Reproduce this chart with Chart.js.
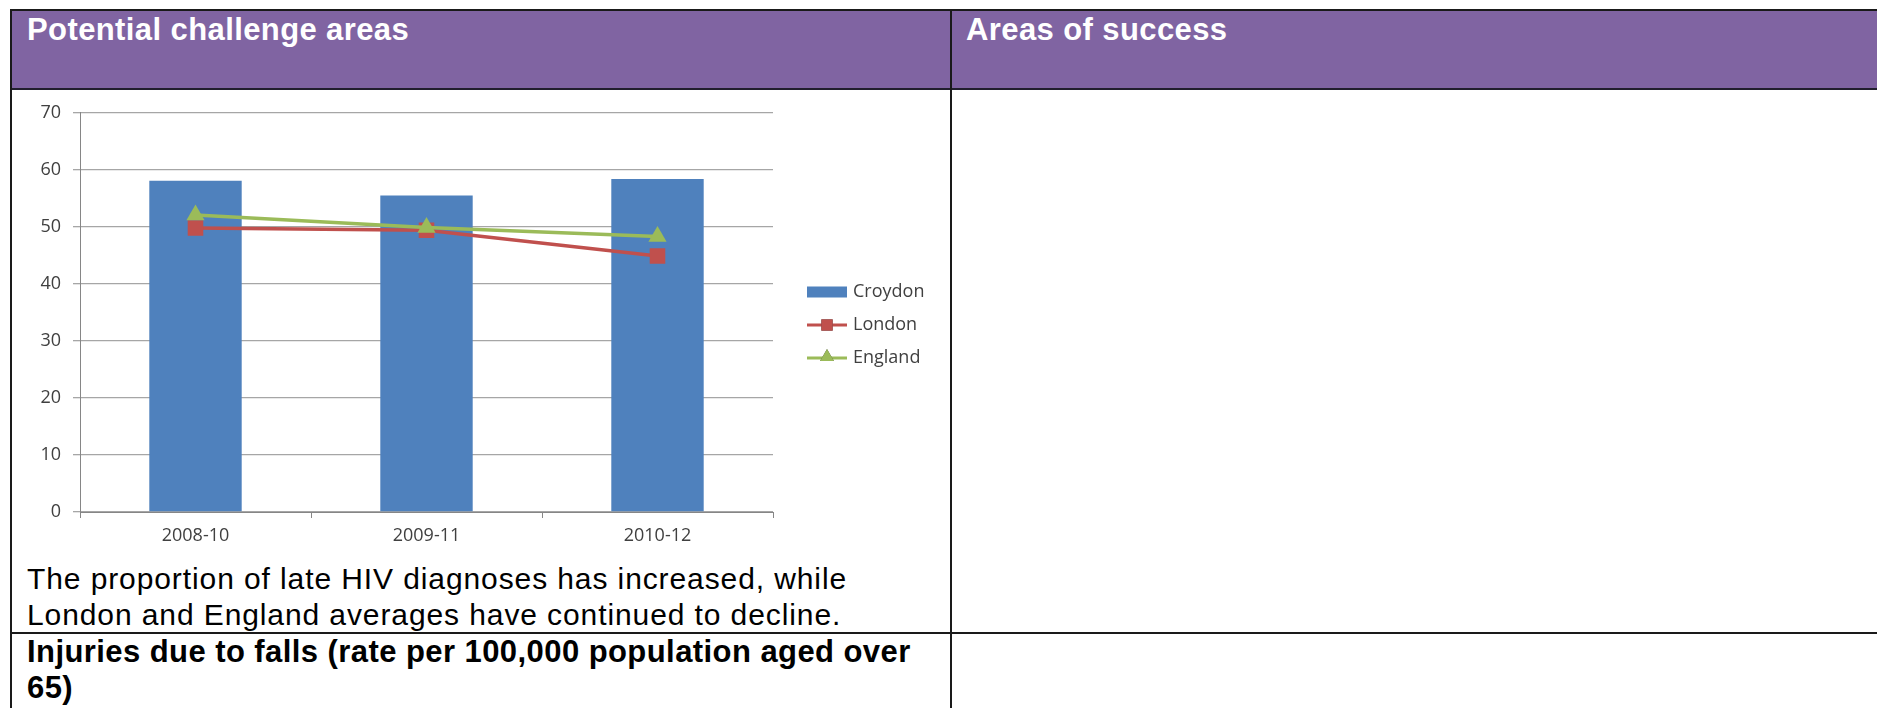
<!DOCTYPE html>
<html>
<head>
<meta charset="utf-8">
<script src="https://cdn.jsdelivr.net/npm/chart.js@4/dist/chart.umd.min.js"></script>
<style>
  body { margin: 0; width: 1877px; height: 708px; overflow: hidden; background: #fff; position: relative; font-family: "Liberation Sans", Arial, sans-serif; }
  .linea { position: absolute; background: #1a1a1a; }
  .cabecera { position: absolute; left: 11px; top: 11px; width: 1866px; height: 77px; background: #8064a2; }
  .texto { position: absolute; white-space: nowrap; font-size: 30px; line-height: 36px; }
  .titulo { color: #fff; font-weight: bold; font-size: 31px; line-height: 30px; letter-spacing: 0.4px; }
  #grafico { position: absolute; left: 12px; top: 90px; }
</style>
</head>
<body>
<div class="cabecera"></div>
<div class="linea" style="left:10px;top:9px;width:1867px;height:2px;"></div>
<div class="linea" style="left:10px;top:88px;width:1867px;height:2px;background:#221f2e;"></div>
<div class="linea" style="left:10px;top:9px;width:2px;height:699px;"></div>
<div class="linea" style="left:950px;top:9px;width:2px;height:699px;"></div>
<div class="linea" style="left:10px;top:632px;width:1867px;height:2px;"></div>

<div class="texto titulo" style="left:27px;top:15px;">Potential challenge areas</div>
<div class="texto titulo" style="left:966px;top:15px;">Areas of success</div>

<canvas id="grafico" width="936" height="460"></canvas>

<div class="texto" style="left:27px;top:561px;letter-spacing:0.9px;">The proportion of late HIV diagnoses has increased, while<br>London and England averages have continued to decline.</div>
<div class="texto" style="left:27px;top:634px;font-size:31px;font-weight:bold;letter-spacing:0.43px;">Injuries due to falls (rate per 100,000 population aged over<br>65)</div>

<script>
// Datos
const periodos = ['2008-10', '2009-11', '2010-12'];
const croydon = [58.1, 55.5, 58.4];
const london = [49.8, 49.4, 44.9];
const england = [52.1, 49.9, 48.3];
const ticksY = [0, 10, 20, 30, 40, 50, 60, 70];

const canvasGrafico = document.querySelector('#grafico');

// Leyenda dibujada a mano para mostrar linea + marcador
const leyendaPlugin = {
  id: 'leyendaManual',
  afterDraw: (chart) => {
    const ctx = chart.ctx;
    const x0 = 795;
    const y0 = 202;
    const paso = 33;
    ctx.save();
    ctx.font = '18px "Open Sans"';
    ctx.textBaseline = 'middle';
    chart.data.datasets.forEach((ds, i) => {
      const y = y0 + i * paso;
      if (ds.type === 'bar') {
        ctx.fillStyle = ds.backgroundColor;
        ctx.fillRect(x0, y - 5.5, 40, 11);
      } else {
        ctx.strokeStyle = ds.borderColor;
        ctx.lineWidth = 3;
        ctx.beginPath();
        ctx.moveTo(x0, y);
        ctx.lineTo(x0 + 40, y);
        ctx.stroke();
        Chart.helpers.drawPoint(ctx, {
          pointStyle: ds.pointStyle,
          radius: 8,
          rotation: 0,
          borderWidth: 0
        }, x0 + 20, ds.pointStyle === 'triangle' ? y - 1 : y);
        ctx.fillStyle = ds.pointBackgroundColor;
        ctx.fill();
      }
      ctx.fillStyle = '#404040';
      ctx.fillText(ds.label, x0 + 46, y);
    });
    ctx.restore();
  }
};

new Chart(canvasGrafico, {
  data: {
    labels: periodos,
    datasets: [
      {
        type: 'bar',
        label: 'Croydon',
        data: croydon,
        backgroundColor: '#4f81bd',
        barPercentage: 0.4,
        categoryPercentage: 1,
        order: 3
      },
      {
        type: 'line',
        label: 'London',
        data: london,
        borderColor: '#c0504d',
        borderWidth: 3.5,
        pointStyle: 'rect',
        pointRadius: 11,
        pointBackgroundColor: '#c0504d',
        pointBorderWidth: 0,
        tension: 0,
        order: 2
      },
      {
        type: 'line',
        label: 'England',
        data: england,
        borderColor: '#9bbb59',
        borderWidth: 3.5,
        pointStyle: 'triangle',
        pointRadius: 10.5,
        pointBackgroundColor: '#9bbb59',
        pointBorderWidth: 0,
        tension: 0,
        order: 1
      }
    ]
  },
  options: {
    responsive: false,
    animation: false,
    layout: { padding: { top: 21, right: 175, left: 0, bottom: 0 } },
    plugins: {
      legend: { display: false },
      tooltip: { enabled: false }
    },
    scales: {
      x: {
        offset: true,
        afterFit: (scale) => { scale.height = 38; },
        grid: { drawOnChartArea: false, drawTicks: true, tickLength: 6, color: '#868686', offset: true },
        border: { color: '#868686', width: 1 },
        ticks: { padding: 7, color: '#404040', font: { family: 'Open Sans', size: 18 } }
      },
      y: {
        min: 0,
        max: 70,
        afterFit: (scale) => { scale.width = 68; },
        afterBuildTicks: (scale) => { scale.ticks = ticksY.map(v => ({ value: v })); },
        grid: { color: '#a6a6a6', lineWidth: 1.3, tickLength: 7 },
        border: { color: '#868686', width: 1 },
        ticks: { padding: 12, color: '#404040', font: { family: 'Open Sans', size: 18 } }
      }
    }
  },
  plugins: [leyendaPlugin]
});
</script>
</body>
</html>
